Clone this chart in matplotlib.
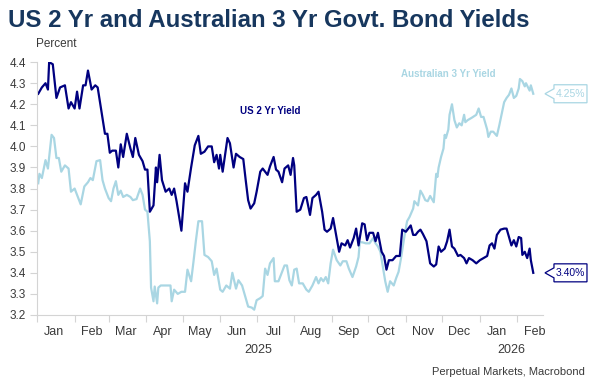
import numpy as np
import pandas as pd
import matplotlib.pyplot as plt
import matplotlib.dates as mdates
from matplotlib.patches import Polygon
from matplotlib.transforms import Affine2D, ScaledTranslation, blended_transform_factory

plt.rcParams['font.family'] = ['Liberation Sans', 'DejaVu Sans']

# US 2 Yr yield
us_dates = ['2025-01-02', '2025-01-05', '2025-01-08', '2025-01-10', '2025-01-11', '2025-01-14', '2025-01-17',
            '2025-01-20', '2025-01-24', '2025-01-27', '2025-01-29', '2025-02-01', '2025-02-03', '2025-02-05',
            '2025-02-08', '2025-02-10', '2025-02-12', '2025-02-15', '2025-02-18', '2025-02-20', '2025-02-23',
            '2025-02-26', '2025-02-28', '2025-03-02', '2025-03-04', '2025-03-07', '2025-03-09', '2025-03-11',
            '2025-03-13', '2025-03-16', '2025-03-19', '2025-03-21', '2025-03-23', '2025-03-26', '2025-03-29',
            '2025-03-31', '2025-04-02', '2025-04-04', '2025-04-07', '2025-04-09', '2025-04-10', '2025-04-12',
            '2025-04-14', '2025-04-17', '2025-04-20', '2025-04-22', '2025-04-24', '2025-04-26', '2025-04-28',
            '2025-04-30', '2025-05-03', '2025-05-05', '2025-05-08', '2025-05-11', '2025-05-14', '2025-05-16',
            '2025-05-19', '2025-05-22', '2025-05-25', '2025-05-27', '2025-05-29', '2025-05-31', '2025-06-01',
            '2025-06-03', '2025-06-07', '2025-06-09', '2025-06-12', '2025-06-14', '2025-06-17', '2025-06-20',
            '2025-06-22', '2025-06-24', '2025-06-26', '2025-06-29', '2025-07-01', '2025-07-04', '2025-07-06',
            '2025-07-10', '2025-07-12', '2025-07-15', '2025-07-17', '2025-07-19', '2025-07-22', '2025-07-24',
            '2025-07-27', '2025-07-29', '2025-07-31', '2025-08-01', '2025-08-03', '2025-08-06', '2025-08-09',
            '2025-08-11', '2025-08-14', '2025-08-16', '2025-08-19', '2025-08-21', '2025-08-24', '2025-08-26',
            '2025-08-28', '2025-08-31', '2025-09-02', '2025-09-04', '2025-09-07', '2025-09-09', '2025-09-12',
            '2025-09-14', '2025-09-16', '2025-09-19', '2025-09-21', '2025-09-23', '2025-09-26', '2025-09-28',
            '2025-09-30', '2025-10-02', '2025-10-05', '2025-10-07', '2025-10-09', '2025-10-12', '2025-10-14',
            '2025-10-16', '2025-10-18', '2025-10-21', '2025-10-24', '2025-10-27', '2025-10-29', '2025-11-01',
            '2025-11-03', '2025-11-05', '2025-11-07', '2025-11-09', '2025-11-11', '2025-11-13', '2025-11-15',
            '2025-11-18', '2025-11-21', '2025-11-24', '2025-11-26', '2025-11-28', '2025-11-30', '2025-12-03',
            '2025-12-05', '2025-12-07', '2025-12-09', '2025-12-11', '2025-12-14', '2025-12-16', '2025-12-19',
            '2025-12-21', '2025-12-23', '2025-12-26', '2025-12-29', '2026-01-01', '2026-01-04', '2026-01-07',
            '2026-01-09', '2026-01-11', '2026-01-13', '2026-01-15', '2026-01-18', '2026-01-21', '2026-01-23',
            '2026-01-25', '2026-01-27', '2026-01-29', '2026-01-31', '2026-02-02', '2026-02-04', '2026-02-05',
            '2026-02-07', '2026-02-09', '2026-02-11', '2026-02-12', '2026-02-14']
us_vals = [4.25, 4.28, 4.30, 4.27, 4.40, 4.39, 4.23,
           4.28, 4.29, 4.18, 4.21, 4.18, 4.26, 4.18,
           4.29, 4.29, 4.36, 4.27, 4.29, 4.28, 4.17,
           4.06, 4.06, 3.97, 3.98, 3.98, 3.90, 4.01,
           3.95, 4.06, 3.99, 3.95, 4.04, 3.96, 3.93,
           3.89, 3.89, 3.69, 3.72, 3.90, 3.83, 3.96,
           3.84, 3.785, 3.80, 3.77, 3.80, 3.74, 3.67,
           3.60, 3.825, 3.785, 3.90, 4.005, 4.05, 3.965,
           3.975, 4.00, 4.00, 3.925, 3.96, 3.895, 3.96,
           3.88, 4.04, 4.015, 3.90, 3.965, 3.95, 3.94,
           3.84, 3.745, 3.705, 3.73, 3.785, 3.88, 3.895,
           3.865, 3.905, 3.95, 3.89, 3.88, 3.83, 3.895,
           3.91, 3.865, 3.945, 3.91, 3.69, 3.70, 3.755,
           3.76, 3.675, 3.755, 3.77, 3.785, 3.69, 3.605,
           3.595, 3.61, 3.66, 3.595, 3.50, 3.54, 3.53,
           3.555, 3.52, 3.565, 3.61, 3.53, 3.635, 3.63,
           3.555, 3.59, 3.59, 3.55, 3.59, 3.50, 3.48,
           3.415, 3.46, 3.46, 3.48, 3.48, 3.605, 3.595,
           3.61, 3.625, 3.58, 3.58, 3.595, 3.605, 3.585,
           3.55, 3.445, 3.43, 3.44, 3.525, 3.50, 3.515,
           3.55, 3.605, 3.525, 3.515, 3.48, 3.485, 3.47,
           3.445, 3.47, 3.46, 3.445, 3.46, 3.47, 3.48,
           3.53, 3.54, 3.515, 3.58, 3.605, 3.61, 3.61,
           3.57, 3.53, 3.555, 3.525, 3.57, 3.565, 3.485,
           3.50, 3.47, 3.515, 3.46, 3.40]

# Australian 3 Yr yield
au_dates = ['2025-01-02', '2025-01-03', '2025-01-05', '2025-01-08', '2025-01-10', '2025-01-13', '2025-01-15',
            '2025-01-17', '2025-01-19', '2025-01-21', '2025-01-24', '2025-01-27', '2025-01-29', '2025-02-01',
            '2025-02-04', '2025-02-06', '2025-02-09', '2025-02-12', '2025-02-14', '2025-02-16', '2025-02-19',
            '2025-02-22', '2025-02-24', '2025-02-26', '2025-03-01', '2025-03-03', '2025-03-05', '2025-03-07',
            '2025-03-09', '2025-03-11', '2025-03-13', '2025-03-16', '2025-03-19', '2025-03-21', '2025-03-24',
            '2025-03-27', '2025-03-29', '2025-03-31', '2025-04-02', '2025-04-04', '2025-04-05', '2025-04-07',
            '2025-04-08', '2025-04-10', '2025-04-11', '2025-04-13', '2025-04-16', '2025-04-19', '2025-04-21',
            '2025-04-22', '2025-04-24', '2025-04-27', '2025-04-30', '2025-05-03', '2025-05-05', '2025-05-08',
            '2025-05-10', '2025-05-12', '2025-05-14', '2025-05-17', '2025-05-19', '2025-05-22', '2025-05-25',
            '2025-05-27', '2025-05-29', '2025-06-01', '2025-06-03', '2025-06-06', '2025-06-09', '2025-06-11',
            '2025-06-14', '2025-06-16', '2025-06-19', '2025-06-21', '2025-06-24', '2025-06-27', '2025-06-29',
            '2025-07-01', '2025-07-04', '2025-07-06', '2025-07-08', '2025-07-10', '2025-07-12', '2025-07-15',
            '2025-07-16', '2025-07-19', '2025-07-22', '2025-07-24', '2025-07-26', '2025-07-28', '2025-07-30',
            '2025-08-01', '2025-08-03', '2025-08-05', '2025-08-08', '2025-08-11', '2025-08-13', '2025-08-16',
            '2025-08-19', '2025-08-21', '2025-08-23', '2025-08-25', '2025-08-27', '2025-08-29', '2025-08-31',
            '2025-09-02', '2025-09-05', '2025-09-08', '2025-09-10', '2025-09-13', '2025-09-15', '2025-09-18',
            '2025-09-21', '2025-09-23', '2025-09-24', '2025-09-26', '2025-09-29', '2025-10-02', '2025-10-05',
            '2025-10-07', '2025-10-09', '2025-10-11', '2025-10-13', '2025-10-15', '2025-10-17', '2025-10-19',
            '2025-10-22', '2025-10-24', '2025-10-26', '2025-10-28', '2025-10-31', '2025-11-02', '2025-11-04',
            '2025-11-07', '2025-11-08', '2025-11-11', '2025-11-13', '2025-11-15', '2025-11-17', '2025-11-19',
            '2025-11-21', '2025-11-24', '2025-11-25', '2025-11-26', '2025-11-27', '2025-11-28', '2025-11-30',
            '2025-12-02', '2025-12-03', '2025-12-04', '2025-12-06', '2025-12-07', '2025-12-09', '2025-12-11',
            '2025-12-13', '2025-12-15', '2025-12-17', '2025-12-19', '2025-12-20', '2025-12-22', '2025-12-25',
            '2025-12-29', '2025-12-31', '2026-01-02', '2026-01-04', '2026-01-07', '2026-01-08', '2026-01-10',
            '2026-01-12', '2026-01-15', '2026-01-17', '2026-01-19', '2026-01-21', '2026-01-23', '2026-01-25',
            '2026-01-27', '2026-01-29', '2026-01-31', '2026-02-02', '2026-02-03', '2026-02-05', '2026-02-07',
            '2026-02-08', '2026-02-11', '2026-02-12', '2026-02-14']
au_vals = [3.825, 3.87, 3.85, 3.935, 3.895, 4.055, 4.04,
           3.945, 3.945, 3.88, 3.91, 3.895, 3.785, 3.80,
           3.755, 3.725, 3.81, 3.83, 3.85, 3.84, 3.93,
           3.935, 3.84, 3.80, 3.755, 3.74, 3.80, 3.835,
           3.77, 3.79, 3.76, 3.77, 3.76, 3.745, 3.75,
           3.80, 3.77, 3.70, 3.69, 3.55, 3.33, 3.265,
           3.335, 3.255, 3.33, 3.34, 3.34, 3.34, 3.34,
           3.265, 3.32, 3.30, 3.31, 3.31, 3.415, 3.36,
           3.455, 3.555, 3.645, 3.645, 3.485, 3.475, 3.455,
           3.39, 3.42, 3.32, 3.31, 3.34, 3.325, 3.40,
           3.325, 3.365, 3.34, 3.30, 3.24, 3.235, 3.225,
           3.27, 3.28, 3.29, 3.42, 3.39, 3.445, 3.47,
           3.36, 3.36, 3.405, 3.435, 3.435, 3.365, 3.34,
           3.415, 3.42, 3.35, 3.35, 3.32, 3.31, 3.34,
           3.38, 3.35, 3.375, 3.36, 3.38, 3.35, 3.445,
           3.51, 3.46, 3.435, 3.455, 3.455, 3.42, 3.38,
           3.43, 3.475, 3.545, 3.545, 3.54, 3.54, 3.565,
           3.54, 3.525, 3.50, 3.43, 3.36, 3.31, 3.36,
           3.34, 3.375, 3.405, 3.47, 3.58, 3.645, 3.665,
           3.705, 3.74, 3.72, 3.79, 3.77, 3.745, 3.74,
           3.765, 3.735, 3.80, 3.87, 3.855, 3.90, 3.95,
           3.99, 4.055, 4.04, 4.08, 4.15, 4.20, 4.125,
           4.09, 4.11, 4.10, 4.15, 4.115, 4.125, 4.135,
           4.15, 4.18, 4.14, 4.14, 4.08, 4.045, 4.07,
           4.07, 4.05, 4.10, 4.155, 4.21, 4.23, 4.245,
           4.275, 4.23, 4.24, 4.275, 4.32, 4.31, 4.285,
           4.30, 4.265, 4.29, 4.25]

month_labels = ['Jan', 'Feb', 'Mar', 'Apr', 'May', 'Jun', 'Jul', 'Aug', 'Sep', 'Oct', 'Nov', 'Dec', 'Jan', 'Feb']
year_labels = ['2025', '2026']

us_x = pd.to_datetime(us_dates)
au_x = pd.to_datetime(au_dates)

navy = '#000080'
light = '#a9d6e3'
grey = '#d4d4d4'
txt = '#3a3a3a'

fig = plt.figure(figsize=(5.97, 3.86), dpi=100)
ax = fig.add_axes([0.062, 0.184, 0.8475, 0.655])

ax.plot(au_x, au_vals, color=light, lw=1.6, solid_joinstyle='round')
ax.plot(us_x, us_vals, color=navy, lw=1.6, solid_joinstyle='round')

x0 = pd.Timestamp('2025-01-01')
x1 = pd.Timestamp('2026-02-22')
ax.set_xlim(x0, x1)
ax.set_ylim(3.2, 4.4)

ax.set_yticks(np.arange(3.2, 4.41, 0.1))
ax.yaxis.set_major_formatter(plt.FuncFormatter(lambda v, p: f'{v:.1f}'))
ax.tick_params(axis='y', direction='out', length=5, color=grey, labelsize=8.5,
               labelcolor=txt, pad=3)

month_starts = pd.date_range('2025-01-01', '2026-02-01', freq='MS')
ax.set_xticks(month_starts)
ax.set_xticklabels([])
ax.set_xticks(month_starts + pd.Timedelta(days=14), minor=True)
ax.set_xticklabels(month_labels, minor=True)
ax.tick_params(axis='x', which='major', direction='out', length=5, color=grey)
ax.tick_params(axis='x', which='minor', length=0, labelsize=9, labelcolor=txt, pad=8)

for s in ['top', 'right']:
    ax.spines[s].set_visible(False)
for s in ['left', 'bottom']:
    ax.spines[s].set_color(grey)

bt = blended_transform_factory(ax.transData, ax.transAxes)
y25 = x0 + (pd.Timestamp('2026-01-01') - x0) / 2
y26 = pd.Timestamp('2026-01-01') + (x1 - pd.Timestamp('2026-01-01')) / 2
for xd, lab in zip([y25, y26], year_labels):
    ax.text(xd, -0.14, lab, transform=bt, ha='center', va='center', fontsize=9, color=txt)

ax.text(pd.Timestamp('2025-07-12'), 4.168, 'US 2 Yr Yield', color=navy, fontsize=7,
        fontweight='bold', ha='center', va='center')
ax.text(pd.Timestamp('2025-12-06'), 4.343, 'Australian 3 Yr Yield', color=light, fontsize=7,
        fontweight='bold', ha='center', va='center')

# end-value callouts, shape in pixels from the last value at the right edge
def callout(val, col, label):
    tr = Affine2D() + ScaledTranslation(mdates.date2num(x1), val, ax.transData)
    pts = np.array([[2, 0], [11, 5], [11, 9], [44, 9], [44, -9], [11, -9], [11, -5]], float)
    poly = Polygon(pts, closed=True, facecolor='white', edgecolor=col, lw=0.9,
                   transform=tr, clip_on=False, zorder=5)
    ax.add_artist(poly)
    ax.text(27.5, 0, label, transform=tr, ha='center', va='center', fontsize=7.5,
            color=col, zorder=6, clip_on=False)

callout(au_vals[-1], light, '4.25%')
callout(us_vals[-1], navy, '3.40%')

fig.text(0.0134, 0.948, 'US 2 Yr and Australian 3 Yr Govt. Bond Yields', fontsize=17.3,
         fontweight='bold', color='#17375e', ha='left', va='center')
fig.text(0.06, 0.886, 'Percent', fontsize=8.5, color=txt, ha='left', va='center')
fig.text(0.98, 0.036, 'Perpetual Markets, Macrobond', fontsize=8, color=txt, ha='right', va='center')

fig.savefig('out.png', dpi=100)
